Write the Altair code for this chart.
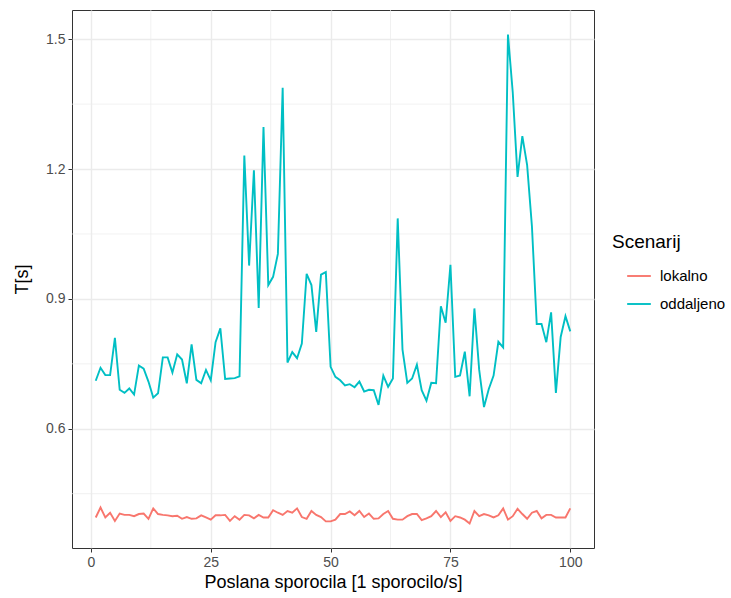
import altair as alt
import pandas as pd

messages = list(range(1, 101))

lokalno = [
    0.395, 0.418, 0.395, 0.406, 0.387, 0.404, 0.401, 0.401, 0.398, 0.403,
    0.404, 0.392, 0.416, 0.403, 0.401, 0.400, 0.398, 0.399, 0.392, 0.396,
    0.392, 0.393, 0.400, 0.395, 0.390, 0.400, 0.400, 0.401, 0.387, 0.398,
    0.390, 0.401, 0.400, 0.393, 0.401, 0.395, 0.395, 0.412, 0.406, 0.401,
    0.410, 0.406, 0.416, 0.396, 0.392, 0.410, 0.401, 0.396, 0.386, 0.386,
    0.390, 0.403, 0.403, 0.409, 0.400, 0.410, 0.396, 0.404, 0.392, 0.393,
    0.403, 0.410, 0.392, 0.390, 0.390, 0.398, 0.403, 0.403, 0.389, 0.393,
    0.398, 0.410, 0.396, 0.407, 0.387, 0.398, 0.395, 0.390, 0.381, 0.410,
    0.398, 0.403, 0.400, 0.395, 0.400, 0.416, 0.390, 0.398, 0.415, 0.403,
    0.392, 0.406, 0.410, 0.393, 0.401, 0.401, 0.395, 0.395, 0.395, 0.416,
]

oddaljeno = [
    0.711, 0.741, 0.724, 0.724, 0.810, 0.690, 0.683, 0.693, 0.679, 0.746,
    0.739, 0.709, 0.672, 0.682, 0.765, 0.765, 0.730, 0.772, 0.760, 0.705,
    0.795, 0.713, 0.705, 0.736, 0.712, 0.800, 0.832, 0.715, 0.716, 0.717,
    0.721, 1.231, 0.977, 1.197, 0.879, 1.297, 0.932, 0.951, 1.004, 1.388,
    0.753, 0.777, 0.763, 0.797, 0.958, 0.932, 0.824, 0.956, 0.962, 0.743,
    0.720, 0.712, 0.700, 0.703, 0.696, 0.709, 0.686, 0.690, 0.689, 0.655,
    0.723, 0.697, 0.716, 1.086, 0.783, 0.706, 0.716, 0.748, 0.689, 0.665,
    0.706, 0.705, 0.883, 0.845, 0.979, 0.720, 0.723, 0.778, 0.675, 0.878,
    0.736, 0.650, 0.692, 0.723, 0.801, 0.788, 1.511, 1.377, 1.182, 1.276,
    1.209, 1.068, 0.842, 0.842, 0.800, 0.869, 0.683, 0.812, 0.860, 0.825,
]

series_names = ["lokalno", "oddaljeno"]
series_colors = ["#F8766D", "#00BFC4"]

x_ticks = [0, 25, 50, 75, 100]
x_minor = [12.5, 37.5, 62.5, 87.5]
y_ticks = [0.6, 0.9, 1.2, 1.5]
y_minor = [0.45, 0.75, 1.05, 1.35]

df = pd.DataFrame({
    "x": messages + messages,
    "T": lokalno + oddaljeno,
    "Scenarij": ["lokalno"] * len(messages) + ["oddaljeno"] * len(messages),
})

x_dom = [-3.95, 104.95]
y_dom = [0.3245, 1.5675]
FONT = "Liberation Sans"

xs = alt.Scale(domain=x_dom, nice=False, zero=False)
ys = alt.Scale(domain=y_dom, nice=False, zero=False)

minor_x = alt.Chart(pd.DataFrame({"v": x_minor})).mark_rule(
    color="#EBEBEB", strokeWidth=0.7
).encode(x=alt.X("v:Q", scale=xs))

minor_y = alt.Chart(pd.DataFrame({"v": y_minor})).mark_rule(
    color="#EBEBEB", strokeWidth=0.7
).encode(y=alt.Y("v:Q", scale=ys))

lines = alt.Chart(df).mark_line(strokeWidth=1.9).encode(
    x=alt.X(
        "x:Q", scale=xs,
        title="Poslana sporocila [1 sporocilo/s]",
        axis=alt.Axis(values=x_ticks, format="d", titlePadding=4),
    ),
    y=alt.Y(
        "T:Q", scale=ys,
        title="T[s]",
        axis=alt.Axis(values=y_ticks, format=".1f", titlePadding=14),
    ),
    color=alt.Color(
        "Scenarij:N",
        scale=alt.Scale(domain=series_names, range=series_colors),
        legend=alt.Legend(
            orient="none", legendX=540, legendY=223,
            symbolType="stroke", symbolSize=560, symbolStrokeWidth=1.9,
            symbolOffset=14, labelOffset=8, rowPadding=7,
            titleFontSize=19, titleFontWeight="normal", titleColor="black",
            titlePadding=11, labelFontSize=15, labelColor="black",
            titleFont=FONT, labelFont=FONT, padding=0,
        ),
    ),
)

chart = alt.layer(minor_x, minor_y, lines).properties(
    width=522, height=538,
    padding={"left": 72, "top": 10, "right": 137, "bottom": 50},
    autosize=alt.AutoSizeParams(type="none"),
    background="white",
).configure_view(
    stroke="#333333", strokeWidth=1
).configure_axis(
    domain=False,
    grid=True, gridColor="#EBEBEB", gridWidth=1.4,
    ticks=True, tickColor="#333333", tickSize=4, tickWidth=1,
    labelColor="#4D4D4D", labelFontSize=14, labelFont=FONT, labelPadding=3,
    titleColor="black", titleFontSize=18, titleFontWeight="normal", titleFont=FONT,
)

chart.save("out.html", embed_options={"renderer": "svg", "actions": False})
